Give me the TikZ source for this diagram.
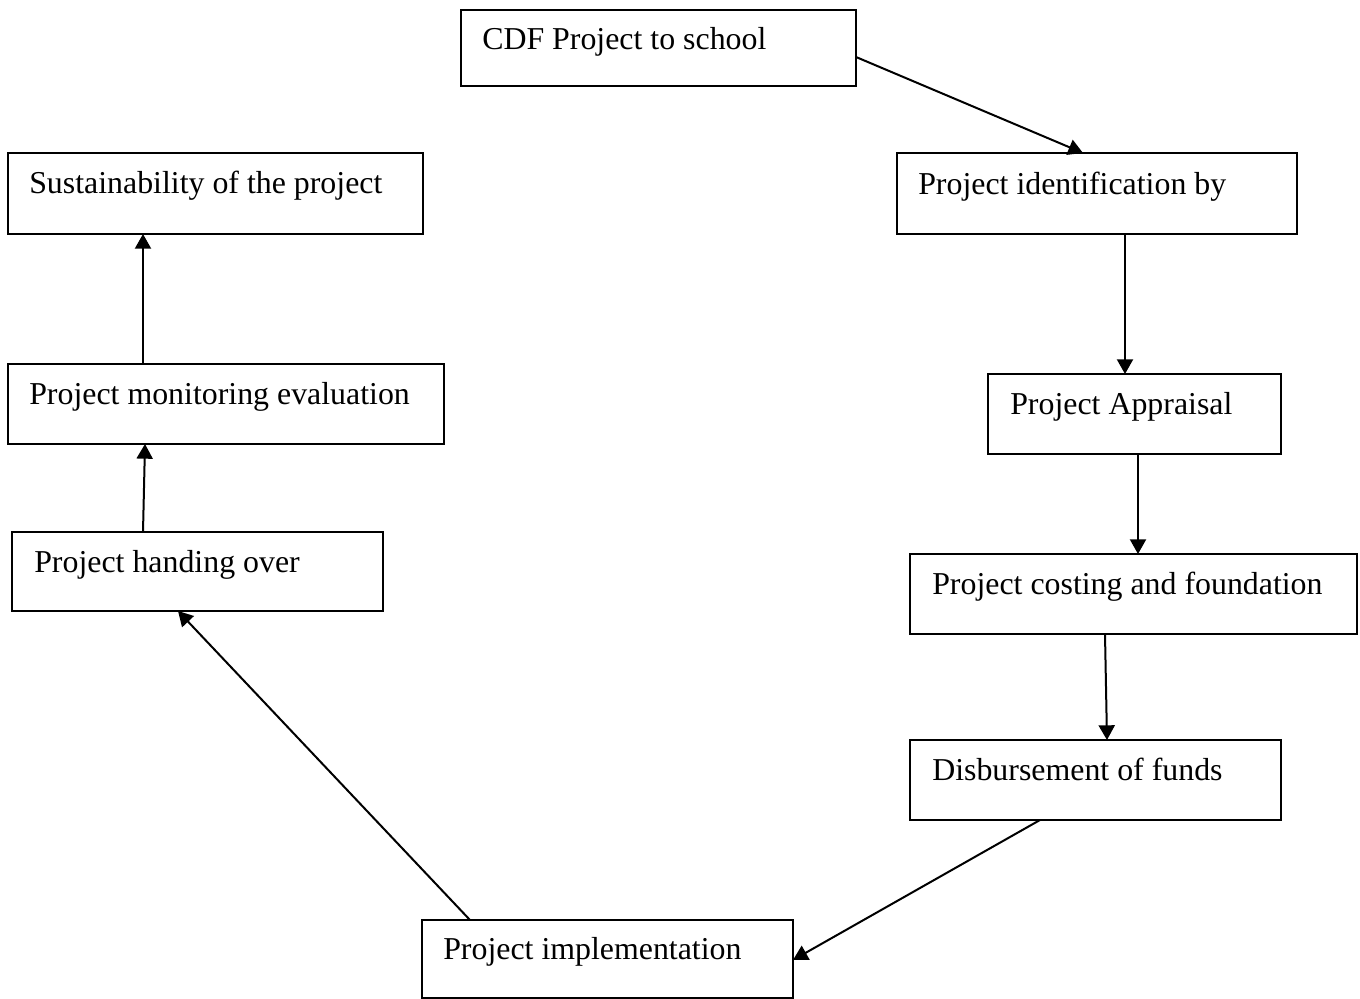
\documentclass[tikz,border=0pt]{standalone}
\usepackage{fontspec}
\setmainfont{Liberation Serif}
\usetikzlibrary{arrows.meta,calc,fit}
\begin{document}
\begin{tikzpicture}[x=0.75pt,y=-0.75pt,
  box/.style={draw=black,line width=1.5pt,inner sep=0pt,outer sep=0pt,rectangle},
  txt/.style={anchor=base west,inner sep=0pt,font=\fontsize{23.9}{28}\selectfont},
  arr/.style={line width=1.5pt,-{Triangle[length=11pt,width=12pt]}}]
\useasboundingbox[fill=white] (0,0) rectangle (1360,999);
% boxes
\node[box,fit={(461,10)(856,86)}] (cdf) {};
\node[box,fit={(897,153)(1297,234)}] (ident) {};
\node[box,fit={(988,374)(1281,454)}] (appr) {};
\node[box,fit={(910,554)(1357,634)}] (cost) {};
\node[box,fit={(910,740)(1281,820)}] (disb) {};
\node[box,fit={(422,920)(793,998)}] (impl) {};
\node[box,fit={(12,532)(383,611)}] (hand) {};
\node[box,fit={(8,364)(444,444)}] (mon) {};
\node[box,fit={(8,153)(423,234)}] (sust) {};
% texts
\node[txt] (tcdf) at (482,50) {CDF Project to school};
\node[txt] (tident) at (918,194) {Project identification by};
\node[txt] (tappr) at (1010,414) {Project Appraisal};
\node[txt] (tcost) at (932,594) {Project costing and foundation};
\node[txt] (tdisb) at (932,780) {Disbursement of funds};
\node[txt] (timpl) at (443,959) {Project implementation};
\node[txt] (thand) at (34,572) {Project handing over};
\node[txt] (tmon) at (29,404) {Project monitoring evaluation};
\node[txt] (tsust) at (29,193) {Sustainability of the project};
% connectors
\draw[arr] ($(cdf.north east)+(0,47)$) -- ($(ident.north west)+(186,0)$);
\draw[arr] ($(ident.south west)+(228,0)$) -- ($(appr.north west)+(137,0)$);
\draw[arr] ($(appr.south west)+(150,0)$) -- ($(cost.north west)+(228,0)$);
\draw[arr] ($(cost.south west)+(195,0)$) -- ($(disb.north west)+(197,0)$);
\draw[arr] ($(disb.south west)+(130,0)$) -- ($(impl.north east)+(0,40)$);
\draw[arr] ($(impl.north west)+(48,0)$) -- ($(hand.south west)+(166,0)$);
\draw[arr] ($(hand.north west)+(131,0)$) -- ($(mon.south west)+(137,0)$);
\draw[arr] ($(mon.north west)+(135,0)$) -- ($(sust.south west)+(135,0)$);
\end{tikzpicture}
\end{document}
